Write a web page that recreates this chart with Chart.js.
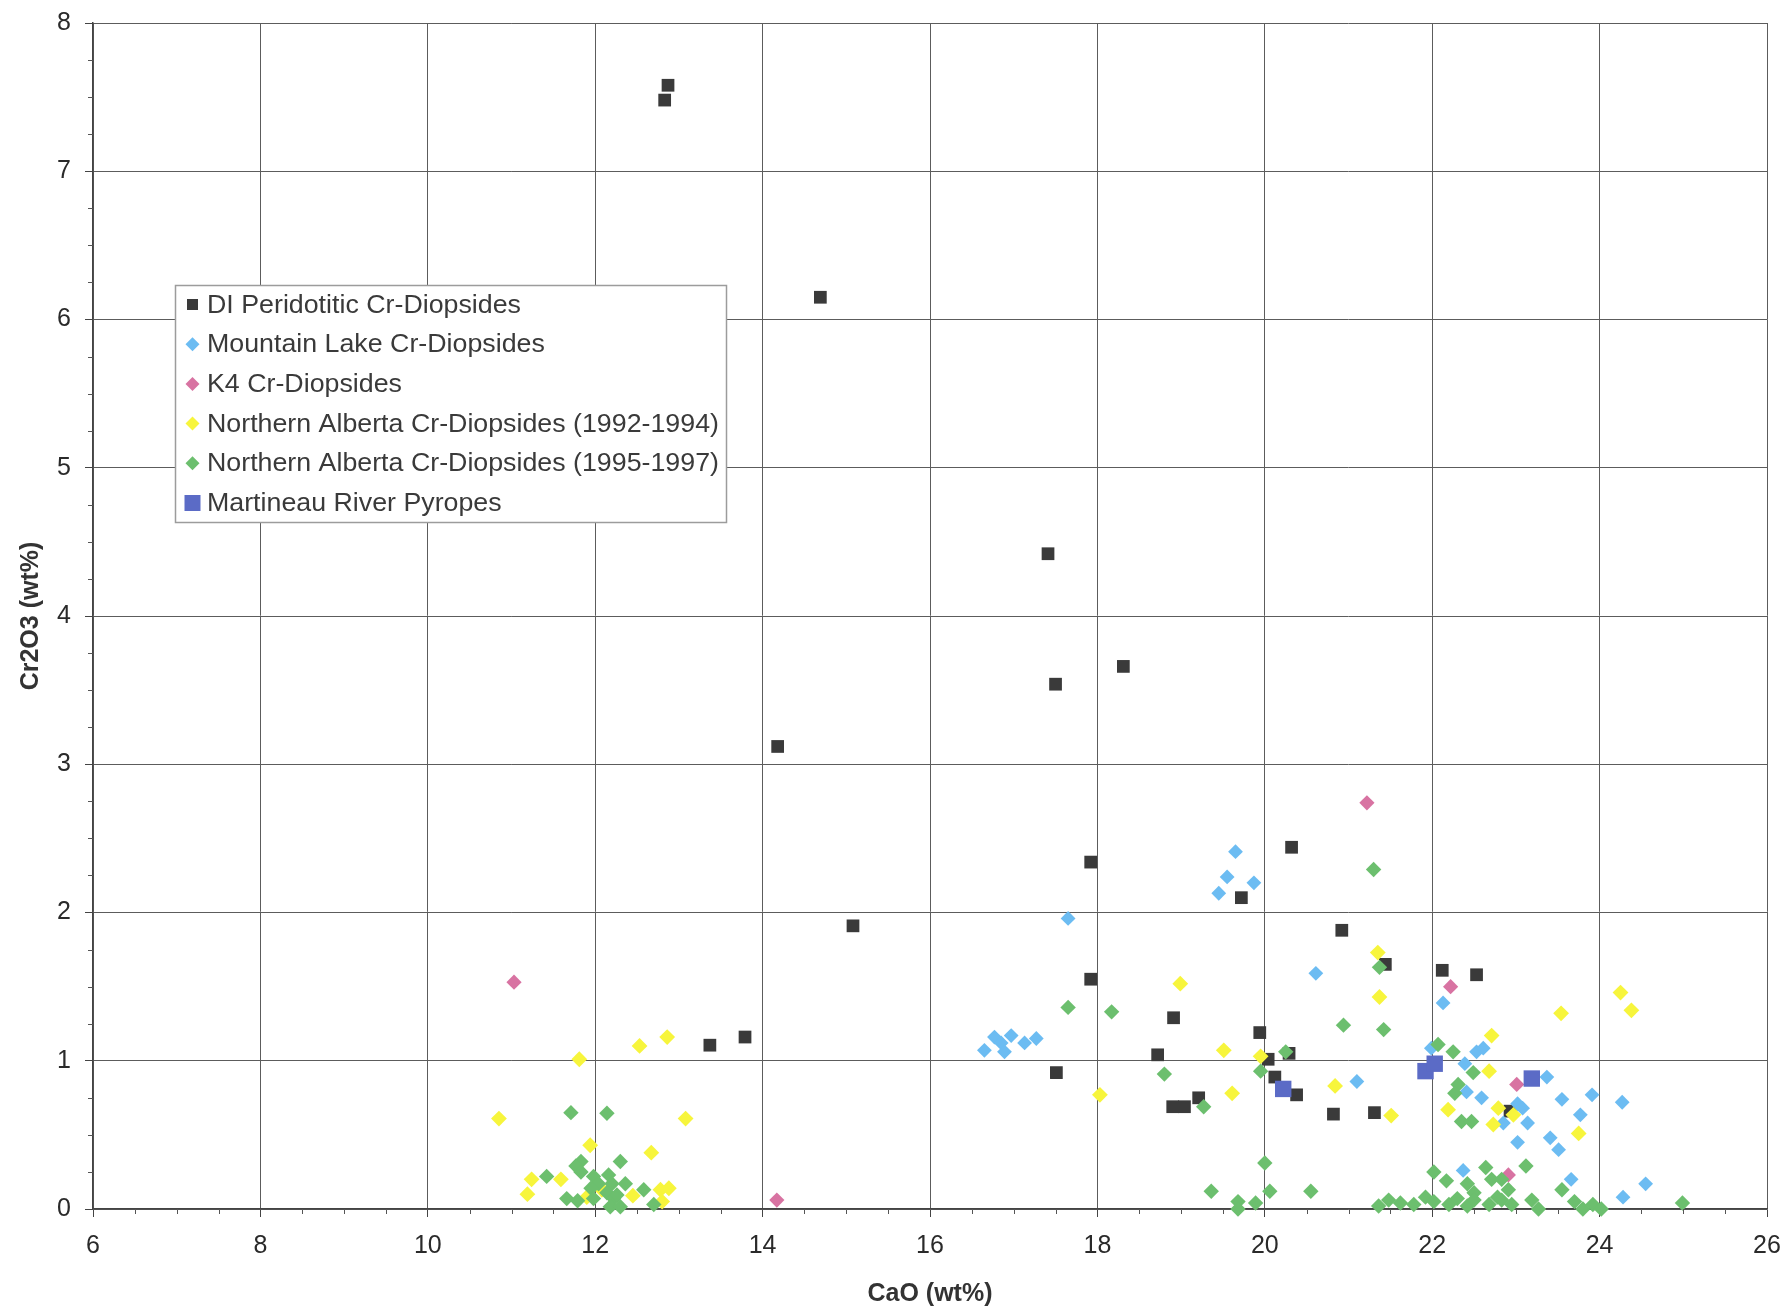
<!DOCTYPE html>
<html>
<head>
<meta charset="utf-8">
<script src="https://cdn.jsdelivr.net/npm/chart.js@4.4.1/dist/chart.umd.min.js"></script>
<style>
html,body{margin:0;padding:0;background:#ffffff;}
#wrap{width:1787px;height:1311px;position:relative;}
</style>
</head>
<body>
<div id="wrap"><canvas id="c" width="1787" height="1311"></canvas></div>
<script>
// ---------- DATA ----------
const seriesNames = [
  "DI Peridotitic Cr-Diopsides",
  "Mountain Lake Cr-Diopsides",
  "K4 Cr-Diopsides",
  "Northern Alberta Cr-Diopsides (1992-1994)",
  "Northern Alberta Cr-Diopsides (1995-1997)",
  "Martineau River Pyropes"
];
const xTickValues = [6, 8, 10, 12, 14, 16, 18, 20, 22, 24, 26];
const yTickValues = [0, 1, 2, 3, 4, 5, 6, 7, 8];
const xTitle = "CaO (wt%)";
const yTitle = "Cr2O3 (wt%)";

const diCaO = [12.83,12.87,14.69,17.41,17.50,18.31,14.18,17.92,15.08,20.32,19.72,20.92,21.44,22.12,22.53,17.92,18.91,19.94,20.29,18.72,20.04,13.37,13.79,17.51,20.12,20.38,19.21,18.90,19.04,20.82,21.31,22.93];
const diCr  = [7.48,7.58,6.15,4.42,3.54,3.66,3.12,2.34,1.91,2.44,2.10,1.88,1.65,1.61,1.58,1.55,1.29,1.19,1.05,1.04,1.01,1.105,1.16,0.92,0.89,0.77,0.75,0.69,0.69,0.64,0.65,0.66];

const mlCaO = [19.65,19.55,19.87,19.45,17.65,20.61,22.13,16.65,16.77,16.85,16.89,16.97,17.13,17.27,21.10,21.99,22.53,22.61,22.39,23.37,22.41,22.59,23.55,23.91,24.27,23.02,23.08,23.77,23.14,22.85,23.02,23.41,23.51,22.37,23.66,24.55,24.28];
const mlCr  = [2.41,2.24,2.20,2.13,1.96,1.59,1.39,1.07,1.16,1.12,1.06,1.17,1.12,1.15,0.86,1.085,1.06,1.085,0.98,0.89,0.79,0.75,0.74,0.77,0.72,0.71,0.68,0.635,0.58,0.58,0.45,0.48,0.40,0.26,0.20,0.17,0.08];

const k4CaO = [11.03,14.17,21.22,22.22,23.01,22.91];
const k4Cr  = [1.53,0.06,2.74,1.50,0.84,0.23];

const na92CaO = [11.81,12.53,12.86,10.85,13.08,11.94,12.67,11.24,11.59,11.19,12.45,12.78,12.88,11.90,12.08,12.80,18.99,19.51,19.95,18.03,19.61,20.84,21.35,21.37,21.51,22.19,22.71,22.68,22.79,22.97,22.73,23.54,24.25,24.38,23.75];
const na92Cr  = [1.01,1.10,1.16,0.61,0.61,0.43,0.38,0.20,0.20,0.10,0.09,0.13,0.14,0.08,0.13,0.05,1.52,1.07,1.03,0.77,0.78,0.83,1.73,1.43,0.63,0.67,1.17,0.93,0.68,0.635,0.57,1.32,1.46,1.34,0.51];

const na95CaO = [11.71,12.14,11.83,11.77,11.83,12.30,11.42,11.66,11.79,11.98,12.04,11.95,12.16,12.20,12.36,11.98,12.14,12.22,12.18,12.30,12.26,12.58,12.70,
  17.65,18.17,20.94,20.25,18.80,19.95,19.27,20.00,19.36,20.06,20.55,19.68,19.68,19.89,
  21.30,21.37,21.42,22.07,22.25,22.49,22.31,22.27,22.35,22.47,22.02,22.17,22.64,22.71,22.42,22.50,
  21.36,21.48,21.62,21.78,21.92,22.02,22.20,22.30,22.42,22.50,22.68,22.78,22.83,22.91,22.83,22.95,23.12,23.19,23.27,23.55,23.70,23.80,23.92,24.02,24.99];
const na95Cr  = [0.65,0.646,0.32,0.29,0.25,0.32,0.22,0.07,0.056,0.22,0.17,0.14,0.23,0.17,0.17,0.07,0.11,0.07,0.015,0.015,0.095,0.13,0.03,
  1.36,1.33,1.24,1.06,0.91,0.93,0.69,0.31,0.12,0.12,0.12,0.05,0.0,0.04,
  2.29,1.63,1.21,1.11,1.06,0.92,0.84,0.78,0.59,0.59,0.25,0.19,0.28,0.20,0.17,0.11,
  0.02,0.06,0.04,0.03,0.08,0.05,0.03,0.07,0.02,0.06,0.03,0.08,0.20,0.13,0.06,0.03,0.29,0.06,0.0,0.13,0.05,0.0,0.03,0.0,0.04];

const mrCaO = [20.22,21.92,22.03,23.19];
const mrCr  = [0.81,0.93,0.98,0.88];

const xMinorStep = 0.5;
const yMinorStep = 0.25;

// ---------- BUILD ----------
function pts(xs, ys){ return xs.map((v,i)=>({x:v, y:ys[i]})); }

const styles = [
  {color:'#3a3a3a', shape:'rect',    r:9.0,  order:6},
  {color:'#6cbcf2', shape:'rectRot', r:7.4,  order:5},
  {color:'#d873a2', shape:'rectRot', r:7.6,  order:4},
  {color:'#f7f53c', shape:'rectRot', r:7.9,  order:3},
  {color:'#6cbf6e', shape:'rectRot', r:7.7,  order:2},
  {color:'#5b6bc6', shape:'rect',    r:11.6, order:1}
];
const xs = [diCaO, mlCaO, k4CaO, na92CaO, na95CaO, mrCaO];
const ys = [diCr, mlCr, k4Cr, na92Cr, na95Cr, mrCr];

const datasets = seriesNames.map((name,i)=>({
  label: name,
  data: pts(xs[i], ys[i]),
  pointStyle: styles[i].shape,
  pointRadius: styles[i].r,
  pointHoverRadius: styles[i].r,
  backgroundColor: styles[i].color,
  borderColor: styles[i].color,
  borderWidth: 0,
  order: styles[i].order,
  clip: false
}));

const FONT = '"Liberation Sans", Arial, Helvetica, sans-serif';

function noPad(s){ s.paddingTop = 0; s.paddingBottom = 0; s.paddingLeft = 0; s.paddingRight = 0; }

const minorTicks = {
  id: 'minorTicks',
  afterDraw(chart){
    const {ctx, chartArea:a} = chart;
    const x = chart.scales.x, y = chart.scales.y;
    ctx.save();
    ctx.strokeStyle = '#555555';
    ctx.lineWidth = 1;
    ctx.beginPath();
    for (let v = y.min; v <= y.max + 1e-9; v += yMinorStep){
      if (Math.abs(v - Math.round(v)) < 1e-6) continue;
      const py = Math.round(y.getPixelForValue(v)) + 0.5;
      ctx.moveTo(a.left - 5, py); ctx.lineTo(a.left, py);
    }
    for (let v = x.min; v <= x.max + 1e-9; v += xMinorStep){
      if (xTickValues.some(t => Math.abs(t - v) < 1e-6)) continue;
      const px = Math.round(x.getPixelForValue(v)) + 0.5;
      ctx.moveTo(px, a.bottom); ctx.lineTo(px, a.bottom + 5);
    }
    ctx.stroke();
    ctx.restore();
  }
};

const boxLegend = {
  id: 'boxLegend',
  afterDraw(chart){
    const {ctx} = chart;
    const bx = 175.5, by = 285.5, bw = 551, bh = 237;
    const rowH = 39.7, firstY = 304.5, markX = 192.5, textX = 207;
    ctx.save();
    ctx.fillStyle = '#ffffff';
    ctx.fillRect(bx, by, bw, bh);
    ctx.strokeStyle = '#9c9c9c';
    ctx.lineWidth = 1.5;
    ctx.strokeRect(bx, by, bw, bh);
    chart.data.datasets.forEach((ds, i) => {
      const cy = firstY + i * rowH;
      ctx.fillStyle = ds.backgroundColor;
      ctx.beginPath();
      if (ds.pointStyle === 'rect'){
        const s = (i === 5) ? 8 : 5.5;
        ctx.rect(markX - s, cy - s, 2*s, 2*s);
      } else {
        const d = 7;
        ctx.moveTo(markX - d, cy); ctx.lineTo(markX, cy - d);
        ctx.lineTo(markX + d, cy); ctx.lineTo(markX, cy + d);
        ctx.closePath();
      }
      ctx.fill();
      ctx.save();
      ctx.fillStyle = '#3a3a3a';
      ctx.font = '25.5px ' + FONT;
      ctx.textBaseline = 'middle';
      ctx.textAlign = 'left';
      ctx.translate(textX, cy + 1);
      ctx.scale(1.05, 1);
      ctx.fillText(ds.label, 0, 0);
      ctx.restore();
    });
    ctx.restore();
  }
};

new Chart(document.getElementById('c'), {
  type: 'scatter',
  data: { datasets },
  options: {
    responsive: false,
    devicePixelRatio: 1,
    animation: false,
    events: [],
    layout: { padding: { top: 23, right: 20, left: 0, bottom: 0 } },
    plugins: { legend: { display: false }, tooltip: { enabled: false } },
    scales: {
      x: {
        type: 'linear', min: 6, max: 26,
        afterBuildTicks: s => { s.ticks = xTickValues.map(v => ({value: v})); },
        afterFit: s => { s.height = 102; noPad(s); },
        ticks: { font: { family: FONT, size: 25 }, color: '#2a2a2a', padding: 14, maxRotation: 0 },
        grid: { color: '#5c5c5c', lineWidth: 1, tickLength: 8, tickColor: '#444444' },
        border: { color: '#444444', width: 1.5 },
        title: { display: true, text: xTitle, color: '#333333',
                 font: { family: FONT, size: 25, weight: 'bold' }, padding: { top: 0, bottom: 2 } }
      },
      y: {
        type: 'linear', min: 0, max: 8,
        afterBuildTicks: s => { s.ticks = yTickValues.map(v => ({value: v})); },
        afterFit: s => { s.width = 93; noPad(s); },
        ticks: { font: { family: FONT, size: 25 }, color: '#2a2a2a', padding: 14 },
        grid: { color: '#5c5c5c', lineWidth: 1, tickLength: 8, tickColor: '#444444' },
        border: { color: '#444444', width: 1.5 },
        title: { display: true, text: yTitle, color: '#333333',
                 font: { family: FONT, size: 25, weight: 'bold' }, padding: { top: 16, bottom: 0 } }
      }
    }
  },
  plugins: [minorTicks, boxLegend]
});
</script>
</body>
</html>
